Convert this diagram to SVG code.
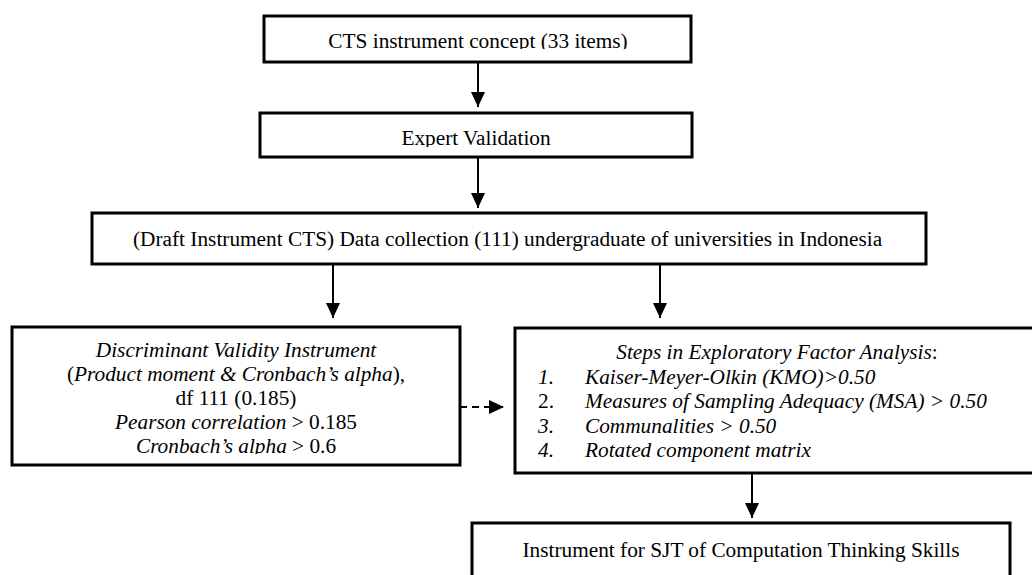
<svg xmlns="http://www.w3.org/2000/svg" width="1032" height="575" viewBox="0 0 1032 575">
  <style>
    .box { fill: #ffffff; stroke: #000000; stroke-width: 3; }
    .t { font-family: "Liberation Serif", "Times New Roman", serif; font-size: 21.3px; fill: #000000; }
    .i { font-style: italic; }
    .c { text-anchor: middle; }
    .edge { stroke: #000000; stroke-width: 2; fill: none; marker-end: url(#arrow); }
    .dash { stroke-dasharray: 7 5; }
  </style>
  <defs>
    <marker id="arrow" markerUnits="userSpaceOnUse" markerWidth="15" markerHeight="14" refX="15" refY="7" orient="auto">
      <path d="M0,0 L15,7 L0,14 z" fill="#000000"/>
    </marker>
    <!-- text frames cut off the last line of text at their inner edge -->
    <clipPath id="clip-concept"><rect x="264" y="16" width="427" height="33"/></clipPath>
    <clipPath id="clip-expert"><rect x="260" y="113" width="432" height="34"/></clipPath>
    <clipPath id="clip-discriminant"><rect x="12" y="327" width="448" height="127"/></clipPath>
  </defs>

  <rect width="1032" height="575" fill="#ffffff"/>

  <!-- connectors -->
  <g id="connectors">
    <line class="edge" x1="478" y1="62" x2="478" y2="107"/>
    <line class="edge" x1="478" y1="157" x2="478" y2="208"/>
    <line class="edge" x1="333" y1="264" x2="333" y2="318"/>
    <line class="edge" x1="660" y1="264" x2="660" y2="318"/>
    <line class="edge dash" x1="460" y1="407" x2="504" y2="407"/>
    <line class="edge" x1="752" y1="473" x2="752" y2="518"/>
  </g>

  <g id="concept">
    <rect class="box" x="264" y="16" width="427" height="46"/>
    <text class="t c" x="478" y="48" clip-path="url(#clip-concept)">CTS instrument concept (33 items)</text>
  </g>

  <g id="expert-validation">
    <rect class="box" x="260" y="113" width="432" height="44"/>
    <text class="t c" x="476" y="145" clip-path="url(#clip-expert)">Expert Validation</text>
  </g>

  <g id="data-collection">
    <rect class="box" x="92" y="213" width="834" height="51"/>
    <text class="t" x="133" y="246">(Draft Instrument CTS) Data collection (111) undergraduate of universities in Indonesia</text>
  </g>

  <g id="discriminant-validity">
    <rect class="box" x="12" y="327" width="448" height="138"/>
    <g clip-path="url(#clip-discriminant)">
      <text class="t c i" x="236" y="357">Discriminant Validity Instrument</text>
      <text class="t c" x="236" y="381">(<tspan class="i">Product moment &amp; Cronbach’s alpha</tspan>),</text>
      <text class="t c" x="236" y="405">df 111 (0.185)</text>
      <text class="t c" x="236" y="429"><tspan class="i">Pearson correlation</tspan> &gt; 0.185</text>
      <text class="t c" x="236" y="453"><tspan class="i">Cronbach’s alpha</tspan> &gt; 0.6</text>
    </g>
  </g>

  <g id="factor-analysis">
    <rect class="box" x="515" y="328" width="524" height="145"/>
    <text class="t c" x="777" y="359"><tspan class="i">Steps in Exploratory Factor Analysis</tspan>:</text>
    <text class="t i" x="538" y="384">1.</text>
    <text class="t i" x="585" y="384">Kaiser-Meyer-Olkin (KMO)&gt;0.50</text>
    <text class="t" x="538" y="408">2.</text>
    <text class="t i" x="585" y="408">Measures of Sampling Adequacy (MSA) &gt; 0.50</text>
    <text class="t i" x="538" y="433">3.</text>
    <text class="t i" x="585" y="433">Communalities &gt; 0.50</text>
    <text class="t i" x="538" y="457">4.</text>
    <text class="t i" x="585" y="457">Rotated component matrix</text>
  </g>

  <g id="sjt-instrument">
    <rect class="box" x="472" y="523" width="538" height="70"/>
    <text class="t c" x="741" y="557">Instrument for SJT of Computation Thinking Skills</text>
  </g>
</svg>
